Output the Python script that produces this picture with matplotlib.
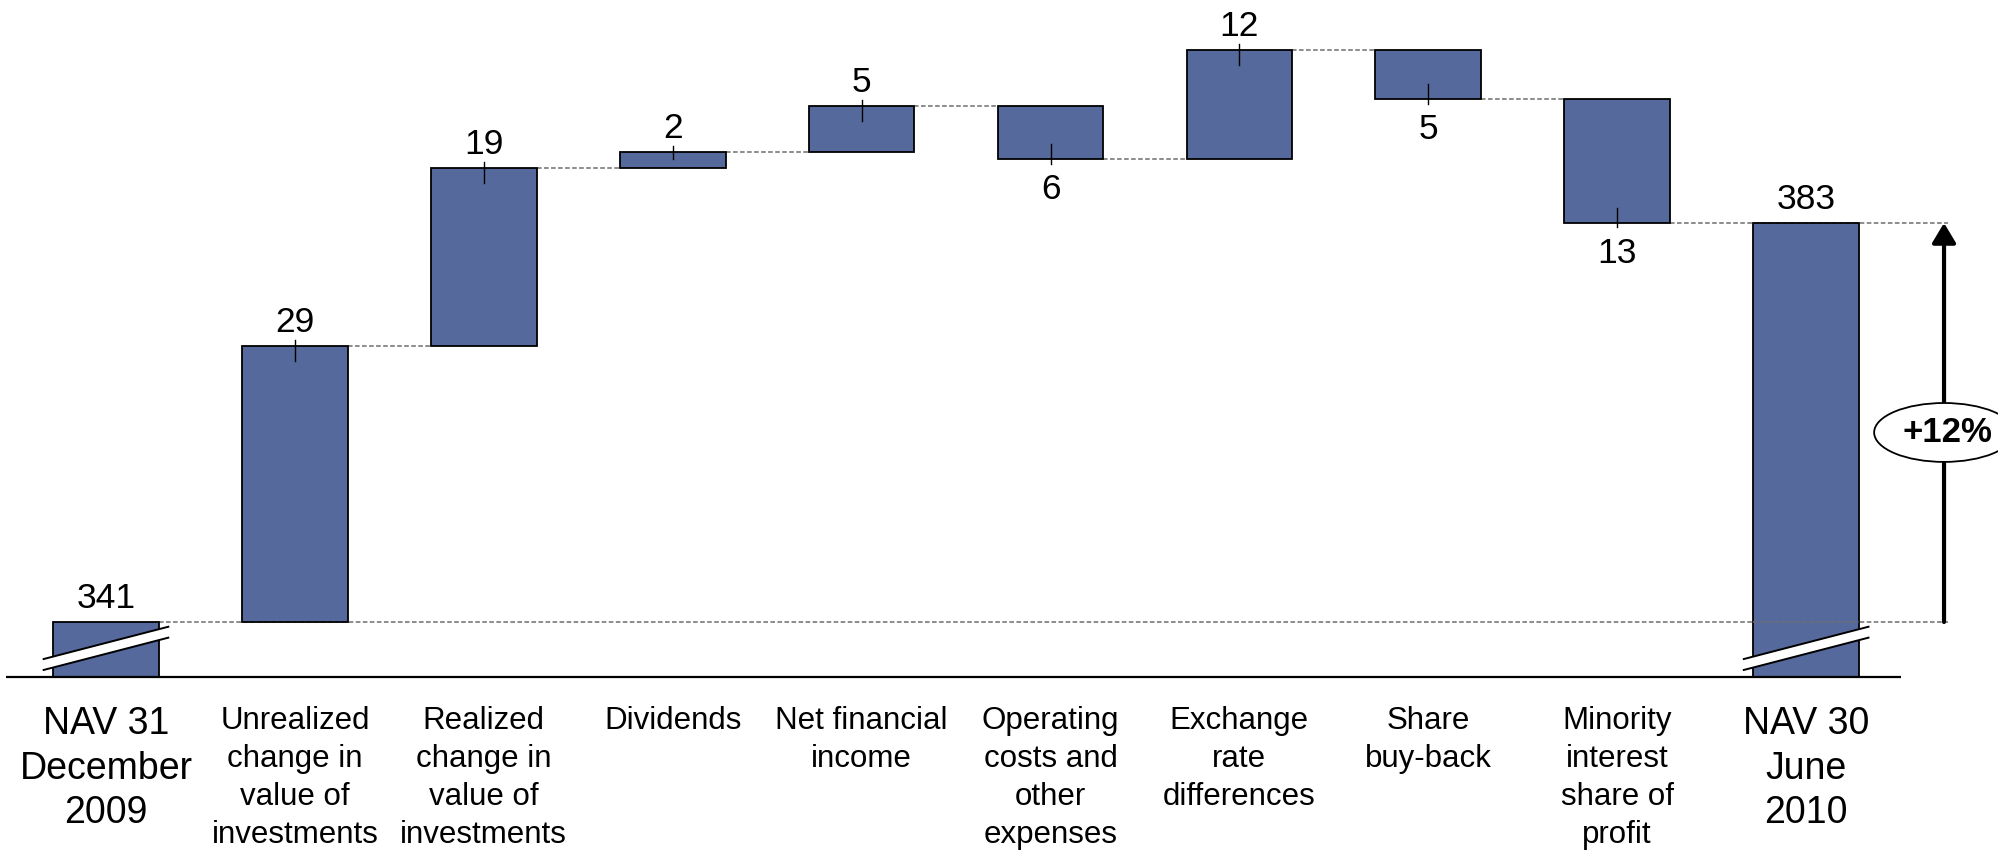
import numpy as np
import matplotlib.pyplot as plt
from matplotlib.patches import Ellipse, Polygon

plt.rcParams['font.family'] = ['Liberation Sans', 'DejaVu Sans']

# data
categories = ['NAV 31\nDecember\n2009',
              'Unrealized\nchange in\nvalue of\ninvestments',
              'Realized\nchange in\nvalue of\ninvestments',
              'Dividends',
              'Net financial\nincome',
              'Operating\ncosts and\nother\nexpenses',
              'Exchange\nrate\ndifferences',
              'Share\nbuy-back',
              'Minority\ninterest\nshare of\nprofit',
              'NAV 30\nJune\n2010']
nav_start = 341
nav_end = 383
changes = [29.1, 18.7, 1.7, 4.8, -5.6, 11.5, -5.2, -13.0]
change_labels = ['29', '19', '2', '5', '6', '12', '5', '13']
growth_label = '+12%'

axis_floor = 335.2   # broken axis: bars start here
bar_color = '#56699C'
bw = 0.56
arrow_x = 9.73

fig = plt.figure(figsize=(19.99, 8.5), dpi=100)
ax = fig.add_axes([0, 0, 1, 1])
ax.set_xlim(-0.561, 10.021)
ax.set_ylim(317.0, 406.47)
ax.axis('off')

levels = nav_start + np.cumsum(changes)
prev = np.concatenate([[nav_start], levels[:-1]])
bottoms = np.minimum(prev, levels)
heights = np.abs(levels - prev)
xs = np.arange(1, len(changes) + 1)

# start / end bars
ax.bar([0, len(categories) - 1], [nav_start - axis_floor, nav_end - axis_floor],
       bottom=axis_floor, width=bw, color=bar_color, edgecolor='black',
       linewidth=1.3, zorder=2)
# change bars
ax.bar(xs, heights, bottom=bottoms, width=bw, color=bar_color,
       edgecolor='black', linewidth=1.3, zorder=2)

# axis line
ax.plot([-0.53, 9.5], [axis_floor, axis_floor], color='black', lw=1.6,
        zorder=3, solid_capstyle='butt')

dash = dict(color='#6e6e6e', lw=1.1, linestyle=(0, (3, 1.6)))
# connectors between change bars
for i in range(1, len(changes)):
    ax.plot([i + bw / 2, i + 1 - bw / 2], [levels[i - 1]] * 2, zorder=1, **dash)
ax.plot([bw / 2, arrow_x + 0.02], [nav_start] * 2, zorder=1, **dash)
ax.plot([9 - bw / 2, 9 + bw / 2], [nav_start] * 2, zorder=3, **dash)
ax.plot([8 + bw / 2, arrow_x + 0.02], [nav_end] * 2, zorder=1, **dash)

# tick marks and labels
for x, b, h, d, lab in zip(xs, bottoms, heights, changes, change_labels):
    inside = min(1.58, 0.45 * h)
    if d > 0:
        top = b + h
        ax.plot([x, x], [top + 0.6, top - inside], color='black', lw=1.0, zorder=3)
        ax.annotate(lab, (x, top), xytext=(0, 10), textcoords='offset points',
                    ha='center', va='baseline', fontsize=25.5)
    else:
        ax.plot([x, x], [b - 0.45, b + inside], color='black', lw=1.0, zorder=3)
        ax.annotate(lab, (x, b), xytext=(0, -10), textcoords='offset points',
                    ha='center', va='top', fontsize=25.5)

for x, v in [(0, nav_start), (9, nav_end)]:
    ax.annotate(str(v), (x, v), xytext=(0, 10), textcoords='offset points',
                ha='center', va='baseline', fontsize=25.5)

# axis break marks
for c in (0, 9):
    xl, xr = c - 0.33, c + 0.33
    up_l, up_r = axis_floor + 1.9, axis_floor + 5.3
    gap = 1.15
    ax.add_patch(Polygon([[xl, up_l], [xr, up_r], [xr, up_r - gap], [xl, up_l - gap]],
                         closed=True, facecolor='white', edgecolor='none', zorder=4))
    ax.plot([xl, xr], [up_l, up_r], color='black', lw=1.4, zorder=5)
    ax.plot([xl, xr], [up_l - gap, up_r - gap], color='black', lw=1.4, zorder=5)

# category labels
for i, cat in enumerate(categories):
    big = i in (0, len(categories) - 1)
    ax.annotate(cat, (i, axis_floor), xytext=(0, -21), textcoords='offset points',
                ha='center', va='top', fontsize=27 if big else 22.5,
                linespacing=1.3 if big else 1.34)

# growth arrow
ax.annotate('', xy=(arrow_x, nav_end), xytext=(arrow_x, nav_start),
            arrowprops=dict(arrowstyle='-|>,head_width=0.36,head_length=0.6',
                            mutation_scale=20, lw=3, color='black',
                            shrinkA=0, shrinkB=0), zorder=3)
mid = nav_start + (nav_end - nav_start) * 0.475
ax.add_patch(Ellipse((arrow_x, mid), 0.74, 6.2, facecolor='white',
                     edgecolor='black', lw=1.3, zorder=4))
ax.text(arrow_x + 0.02, mid, growth_label, ha='center', va='center',
        fontsize=25, fontweight='bold', zorder=5)

plt.savefig('out.png', dpi=100)
